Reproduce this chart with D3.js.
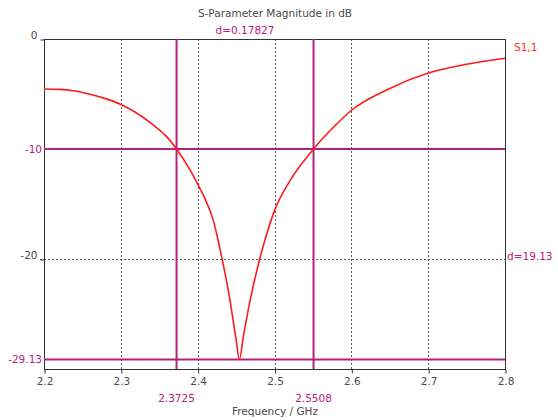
<!DOCTYPE html>
<html>
<head>
<meta charset="utf-8">
<script src="https://cdn.jsdelivr.net/npm/d3@7"></script>
<style>
  html, body { margin: 0; padding: 0; background: #ffffff; }
  svg { display: block; }
  text { font-family: "DejaVu Sans", Verdana, sans-serif; font-size: 10.5px; }
</style>
</head>
<body>
<script>
// S1,1 magnitude sweep (GHz, dB)
const freqs = [2.20, 2.22, 2.24, 2.26, 2.28, 2.30, 2.32, 2.34, 2.36, 2.3725, 2.39, 2.40, 2.41, 2.42, 2.425, 2.43, 2.44, 2.45, 2.4542, 2.46, 2.47, 2.48, 2.49, 2.50, 2.52, 2.5508, 2.58, 2.60, 2.65, 2.70, 2.75, 2.80];
const s11dB = [-4.55, -4.58, -4.72, -5.02, -5.42, -5.95, -6.7, -7.7, -8.9, -10.0, -11.9, -13.2, -14.6, -16.4, -17.8, -19.4, -22.9, -27.3, -29.13, -26.8, -23.2, -20.2, -17.7, -15.6, -12.9, -10.0, -7.8, -6.5, -4.5, -3.1, -2.3, -1.75];

const xTicks = [2.2, 2.3, 2.4, 2.5, 2.6, 2.7, 2.8];
const yTicks = [0, -20];

// Marker readouts
const markerFreqs = [2.3725, 2.5508];
const markerLevels = [-10, -29.13];
const freqDelta = "d=0.17827";
const levelDelta = "d=19.13";

const W = 558, H = 420;
const plot = { left: 44, right: 505, top: 39, bottom: 369 };
const markerColor = "#b4207e";
const tickColor = "#4a4a4a";

const svg = d3.select("body").append("svg").attr("width", W).attr("height", H);

const x = d3.scaleLinear().domain([2.2, 2.8]).range([plot.left, plot.right]);
const y = d3.scaleLinear().domain([-30, 0]).range([plot.bottom, plot.top]);

// Dashed grid
svg.append("g").selectAll("line").data(xTicks.slice(1, -1)).join("line")
  .attr("x1", d => Math.round(x(d)) + 0.5).attr("x2", d => Math.round(x(d)) + 0.5)
  .attr("y1", plot.top).attr("y2", plot.bottom)
  .attr("stroke", "#555").attr("stroke-width", 1).attr("stroke-dasharray", "2,2");
svg.append("g").selectAll("line").data([-20]).join("line")
  .attr("x1", plot.left - 4).attr("x2", plot.right)
  .attr("y1", d => Math.round(y(d)) + 0.5).attr("y2", d => Math.round(y(d)) + 0.5)
  .attr("stroke", "#555").attr("stroke-width", 1).attr("stroke-dasharray", "2,2");

// Frame
svg.append("rect")
  .attr("x", plot.left + 0.5).attr("y", plot.top + 0.5)
  .attr("width", plot.right - plot.left).attr("height", plot.bottom - plot.top)
  .attr("fill", "none").attr("stroke", "#333").attr("stroke-width", 1);

// X axis
const xAxis = d3.axisBottom(x).tickValues(xTicks).tickFormat(d3.format(".1f")).tickSize(4).tickPadding(4);
const gx = svg.append("g").attr("transform", `translate(0.5,${plot.bottom + 0.5})`).call(xAxis);
gx.select(".domain").remove();
gx.selectAll("line").attr("stroke", "#333");
gx.selectAll("text").attr("fill", tickColor).style("font-size", "10.5px").style("font-family", "DejaVu Sans");

// Y axis (plain hyphen for negatives)
const yAxis = d3.axisLeft(y).tickValues(yTicks).tickFormat(d => String(d)).tickSize(4).tickPadding(3);
const gy = svg.append("g").attr("transform", `translate(${plot.left + 0.5},0.5)`).call(yAxis);
gy.select(".domain").remove();
gy.selectAll("line").attr("stroke", "#333");
gy.selectAll("text").attr("fill", tickColor).attr("dy", "-0.05em").style("font-size", "10.5px").style("font-family", "DejaVu Sans");

// Marker lines
const mk = svg.append("g");
mk.selectAll("line.v").data(markerFreqs).join("line").attr("class", "v")
  .attr("x1", d => x(d)).attr("x2", d => x(d))
  .attr("y1", plot.top).attr("y2", plot.bottom)
  .attr("stroke", markerColor).attr("stroke-width", 2);
mk.selectAll("line.h").data(markerLevels).join("line").attr("class", "h")
  .attr("x1", plot.left).attr("x2", plot.right)
  .attr("y1", d => y(d)).attr("y2", d => y(d))
  .attr("stroke", markerColor).attr("stroke-width", 2);

// Curve
const line = d3.line().x((d, i) => x(freqs[i])).y(d => y(d)).curve(d3.curveMonotoneX);
svg.append("path").datum(s11dB)
  .attr("d", line)
  .attr("fill", "none").attr("stroke", "#ff1a1a").attr("stroke-width", 1.6);

// Marker readouts
mk.selectAll("text.fl").data(markerFreqs).join("text").attr("class", "fl")
  .attr("x", d => x(d)).attr("y", plot.bottom + 33)
  .attr("text-anchor", "middle").attr("fill", markerColor)
  .text(d => d3.format(".4f")(d));
mk.selectAll("text.ll").data(markerLevels).join("text").attr("class", "ll")
  .attr("x", plot.left - 2).attr("y", d => y(d) + 4)
  .attr("text-anchor", "end").attr("fill", markerColor)
  .text(d => String(d));
mk.append("text")
  .attr("x", (x(markerFreqs[0]) + x(markerFreqs[1])) / 2).attr("y", plot.top - 5)
  .attr("text-anchor", "middle").attr("fill", markerColor).text(freqDelta);
mk.append("text")
  .attr("x", plot.right + 2).attr("y", y(-20) + 1)
  .attr("text-anchor", "start").attr("fill", markerColor).text(levelDelta);

// Titles and legend
svg.append("text").attr("x", 275).attr("y", 17).attr("text-anchor", "middle")
  .attr("fill", tickColor).text("S-Parameter Magnitude in dB");
svg.append("text").attr("x", 275).attr("y", 415).attr("text-anchor", "middle")
  .attr("fill", tickColor).text("Frequency / GHz");
svg.append("text").attr("x", 514).attr("y", 51).attr("text-anchor", "start")
  .attr("fill", "#ff2a2a").text("S1,1");
</script>
</body>
</html>
